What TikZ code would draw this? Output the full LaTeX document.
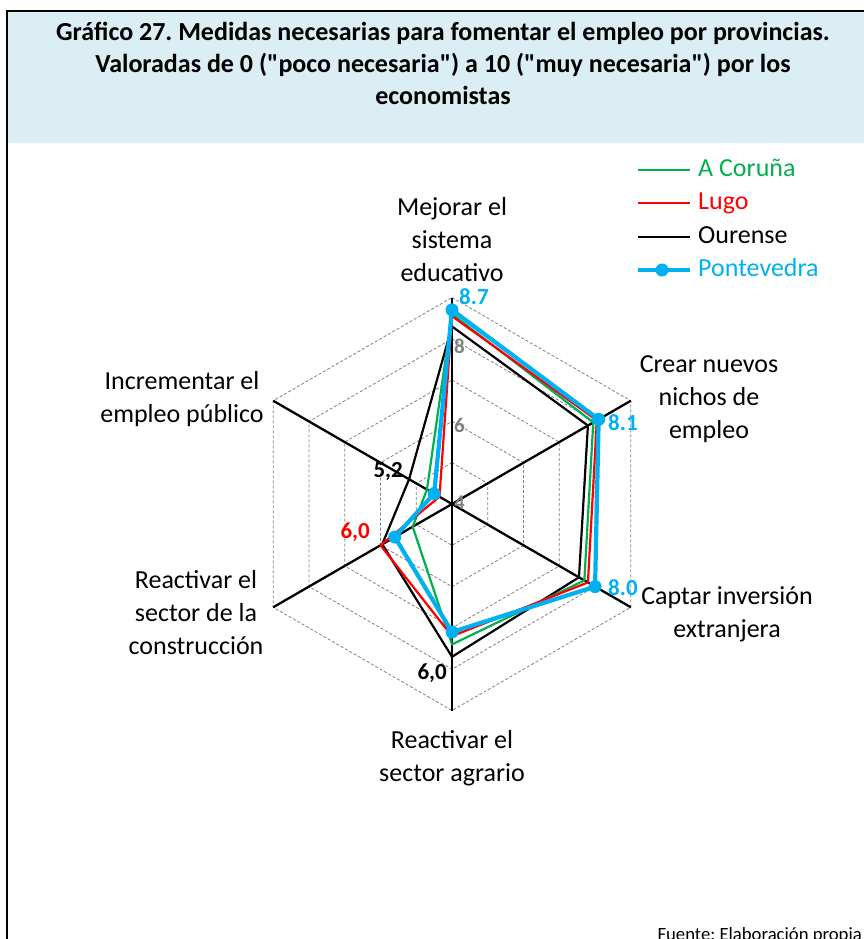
\documentclass[tikz,border=0pt]{standalone}
\usepackage{fontspec}
\setmainfont{Carlito}
\usetikzlibrary{positioning}

\definecolor{coruna}{RGB}{0,176,80}
\definecolor{lugo}{RGB}{255,0,0}
\definecolor{ponte}{RGB}{0,176,240}
\definecolor{titlebg}{RGB}{218,238,243}
\definecolor{tickgray}{RGB}{128,128,128}
\frenchspacing

\begin{document}
\begin{tikzpicture}[x=1pt,y=1pt]
    \tikzset{axislabel/.style={align=center, anchor=base, inner sep=0pt, font=\fontsize{26}{33}\selectfont}}
    \tikzset{datalabel/.style={inner sep=0pt, font=\fontsize{23}{26}\bfseries\selectfont}}
    \tikzset{ticklabel/.style={inner sep=0pt, anchor=west, text=tickgray, font=\fontsize{21}{24}\bfseries\selectfont}}
    \tikzset{legtext/.style={anchor=west, inner xsep=8pt, inner ysep=0pt, text height=18pt, text depth=6pt, font=\fontsize{26}{30}\selectfont}}
    \tikzset{gridline/.style={tickgray, line width=0.8pt, dash pattern=on 3pt off 2pt}}
    \tikzset{axisline/.style={line width=2.3pt}}
    \tikzset{series/.style={line width=2.2pt, line join=round}}
    \tikzset{pontline/.style={ponte, line width=4.2pt, line join=round}}
    \useasboundingbox (0,0) rectangle (864,-939);
    \fill[titlebg] (7,-11) rectangle (864,-143);
    \draw[line width=2.5pt] (864,-11) -- (7,-11) -- (7,-945);
    \node[anchor=base, align=center, inner sep=0pt, font=\fontsize{26}{32}\bfseries\selectfont] (title) at (443,-105)
        {Gráfico 27. Medidas necesarias para fomentar el empleo por provincias.\\
         Valoradas de 0 (\textquotedbl poco necesaria\textquotedbl) a 10 (\textquotedbl muy necesaria\textquotedbl) por los\\
         economistas};
    \begin{scope}[shift={(452,-504)}]
        \coordinate (ctr) at (0,0);
        \foreach \v in {5,...,9}
            \draw[gridline] (90:{(\v-4)*41.3}) \foreach \a in {30,-30,-90,-150,150} {-- (\a:{(\v-4)*41.3})} -- cycle;
        \foreach \a [count=\i] in {90,30,-30,-90,-150,150}
            \coordinate (ax\i) at (\a:206.5);
        \foreach \i in {1,...,6}
            \draw[axisline] (ctr) -- (ax\i);
        \foreach \v [count=\i] in {8.6,7.95,7.7,7.4,5.1,4.7}
            \coordinate (co\i) at ({150-60*\i}:{(\v-4)*41.3});
        \foreach \v [count=\i] in {8.55,8.05,7.8,7.2,6.0,4.35}
            \coordinate (lu\i) at ({150-60*\i}:{(\v-4)*41.3});
        \foreach \v [count=\i] in {8.3,7.8,7.55,7.7,5.95,5.2}
            \coordinate (ou\i) at ({150-60*\i}:{(\v-4)*41.3});
        \foreach \v [count=\i] in {8.7,8.1,8.0,7.1,5.6,4.5}
            \coordinate (po\i) at ({150-60*\i}:{(\v-4)*41.3});
        \draw[series, black] (ou1) -- (ou2) -- (ou3) -- (ou4) -- (ou5) -- (ou6) -- cycle;
        \draw[series, coruna] (co1) -- (co2) -- (co3) -- (co4) -- (co5) -- (co6) -- cycle;
        \draw[series, lugo] (lu1) -- (lu2) -- (lu3) -- (lu4) -- (lu5) -- (lu6) -- cycle;
        \draw[pontline] (po1) -- (po2) -- (po3) -- (po4) -- (po5) -- (po6) -- cycle;
        \foreach \i in {1,...,6}
            \fill[ponte] (po\i) circle (6.5);
        \node[ticklabel] (tick4) at (2,1) {4};
        \node[ticklabel] (tick6) at (2,79) {6};
        \node[ticklabel] (tick8) at (2,158) {8};
    \end{scope}
    \node[datalabel, text=ponte, anchor=west] (lab87) at (459,-297) {8.7};
    \node[datalabel, text=ponte, anchor=west] (lab81) at (608,-423) {8.1};
    \node[datalabel, text=ponte, anchor=west] (lab80) at (608,-588) {8.0};
    \node[datalabel, anchor=east] (lab52) at (403,-472) {5,2};
    \node[datalabel, text=lugo, anchor=east] (lab60r) at (370,-532) {6,0};
    \node[datalabel, anchor=east] (lab60n) at (447,-673) {6,0};
    \node[axislabel] (educ) at (452,-281) {Mejorar el\\sistema\\educativo};
    \node[axislabel] (nichos) at (709,-438) {Crear nuevos\\nichos de\\empleo};
    \node[axislabel] (inver) at (727,-637) {Captar inversión\\extranjera};
    \node[axislabel] (agrario) at (452,-781) {Reactivar el\\sector agrario};
    \node[axislabel] (constr) at (196,-654) {Reactivar el\\sector de la\\construcción};
    \node[axislabel] (publico) at (182,-422) {Incrementar el\\empleo público};
    \foreach \name/\col/\y in {A Coruña/coruna/170, Lugo/lugo/203, Ourense/black/237} {
        \coordinate (legs\y) at (638,-\y);
        \node[legtext, text=\col] (leg\y) at (690,-\y) {\name};
        \draw[\col, line width=2.2pt] (legs\y) -- (leg\y.west);
    }
    \coordinate (legs270) at (638,-270);
    \coordinate (legdot) at (662,-270);
    \node[legtext, text=ponte] (leg270) at (690,-270) {Pontevedra};
    \draw[pontline] (legs270) -- (leg270.west);
    \fill[ponte] (legdot) circle (6.5);
    \node[anchor=base east, inner sep=0pt, font=\fontsize{18.7}{22}\selectfont] (fuente) at (862,-940) {Fuente: Elaboración propia};
\end{tikzpicture}
\end{document}
